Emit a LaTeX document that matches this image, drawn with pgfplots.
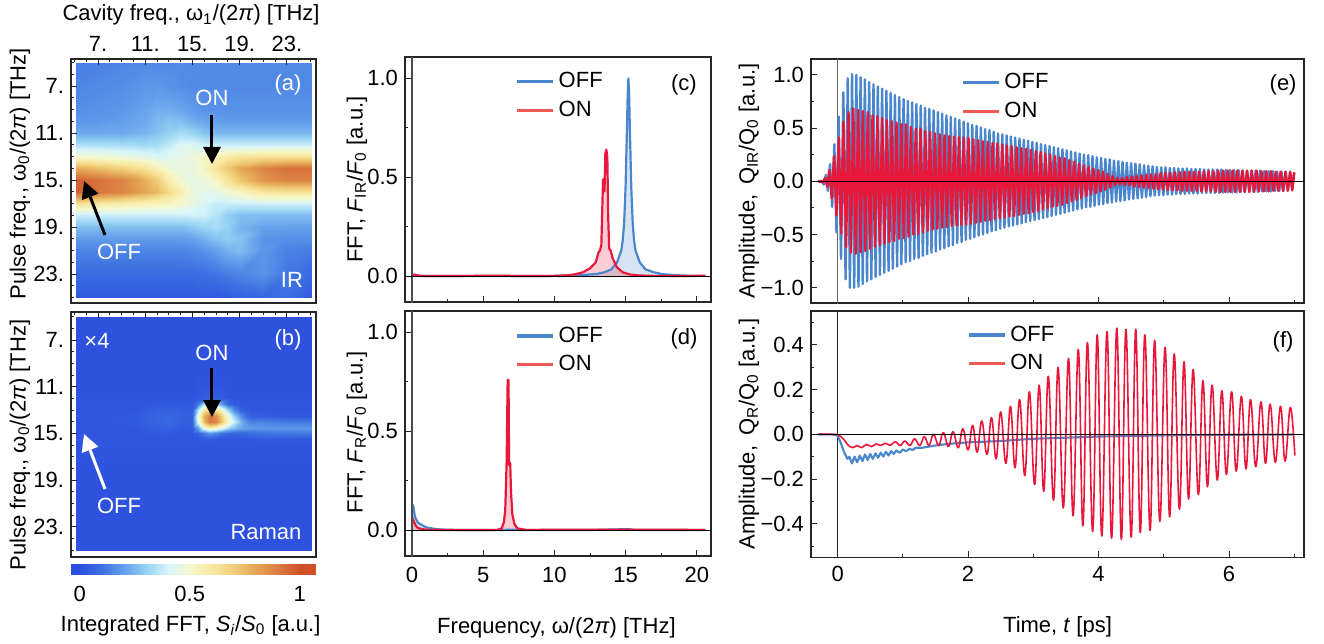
\documentclass[border=0pt]{standalone}
\usepackage{fontspec}
\setmainfont{Liberation Sans}
\usepackage{pgfplots}
\usepackage{pgfplotstable}
\pgfplotsset{compat=1.18}
\usetikzlibrary{arrows.meta}

\definecolor{cBlue}{RGB}{74,134,204}
\definecolor{cRed}{RGB}{232,24,58}
\definecolor{lRed}{RGB}{238,90,85}
\newcommand{\fs}{\fontsize{11bp}{12bp}\selectfont}

% heatmap (a) IR
\pgfplotstableread[row sep=\\]{
x y z\\
5.1 5 .13\\ 7 5 .13\\ 9 5 .14\\ 11 5 .15\\ 12 5 .15\\ 13 5 .15\\ 14 5 .15\\ 15 5 .15\\ 16 5 .15\\ 17 5 .15\\ 18 5 .15\\ 19 5 .15\\ 21 5 .15\\ 23 5 .15\\ 25.1 5 .15\\
5.1 7 .14\\ 7 7 .15\\ 9 7 .16\\ 11 7 .18\\ 12 7 .18\\ 13 7 .17\\ 14 7 .16\\ 15 7 .15\\ 16 7 .15\\ 17 7 .15\\ 18 7 .15\\ 19 7 .15\\ 21 7 .15\\ 23 7 .15\\ 25.1 7 .15\\
5.1 9 .16\\ 7 9 .17\\ 9 9 .18\\ 11 9 .21\\ 12 9 .23\\ 13 9 .23\\ 14 9 .21\\ 15 9 .19\\ 16 9 .17\\ 17 9 .17\\ 18 9 .17\\ 19 9 .17\\ 21 9 .17\\ 23 9 .17\\ 25.1 9 .17\\
5.1 10 .18\\ 7 10 .18\\ 9 10 .20\\ 11 10 .22\\ 12 10 .25\\ 13 10 .27\\ 14 10 .26\\ 15 10 .23\\ 16 10 .21\\ 17 10 .20\\ 18 10 .19\\ 19 10 .19\\ 21 10 .19\\ 23 10 .19\\ 25.1 10 .19\\
5.1 11 .22\\ 7 11 .22\\ 9 11 .22\\ 11 11 .24\\ 12 11 .27\\ 13 11 .30\\ 14 11 .33\\ 15 11 .31\\ 16 11 .27\\ 17 11 .25\\ 18 11 .25\\ 19 11 .25\\ 21 11 .25\\ 23 11 .25\\ 25.1 11 .25\\
5.1 12 .34\\ 7 12 .34\\ 9 12 .33\\ 11 12 .32\\ 12 12 .33\\ 13 12 .37\\ 14 12 .42\\ 15 12 .42\\ 16 12 .39\\ 17 12 .38\\ 18 12 .38\\ 19 12 .38\\ 21 12 .38\\ 23 12 .38\\ 25.1 12 .38\\
5.1 13 .50\\ 7 13 .49\\ 9 13 .47\\ 11 13 .44\\ 12 13 .41\\ 13 13 .42\\ 14 13 .45\\ 15 13 .47\\ 16 13 .52\\ 17 13 .56\\ 18 13 .60\\ 19 13 .62\\ 21 13 .64\\ 23 13 .64\\ 25.1 13 .64\\
5.1 14 .78\\ 7 14 .74\\ 9 14 .68\\ 11 14 .62\\ 12 14 .54\\ 13 14 .47\\ 14 14 .45\\ 15 14 .45\\ 16 14 .52\\ 17 14 .62\\ 18 14 .72\\ 19 14 .80\\ 21 14 .88\\ 23 14 .93\\ 25.1 14 .93\\
5.1 15 .97\\ 7 15 .93\\ 9 15 .88\\ 11 15 .78\\ 12 15 .70\\ 13 15 .57\\ 14 15 .48\\ 15 15 .44\\ 16 15 .46\\ 17 15 .52\\ 18 15 .62\\ 19 15 .72\\ 21 15 .84\\ 23 15 .88\\ 25.1 15 .88\\
5.1 16 .97\\ 7 16 .92\\ 9 16 .88\\ 11 16 .80\\ 12 16 .75\\ 13 16 .66\\ 14 16 .56\\ 15 16 .46\\ 16 16 .43\\ 17 16 .44\\ 18 16 .48\\ 19 16 .52\\ 21 16 .60\\ 23 16 .62\\ 25.1 16 .62\\
5.1 17 .62\\ 7 17 .58\\ 9 17 .56\\ 11 17 .54\\ 12 17 .53\\ 13 17 .52\\ 14 17 .50\\ 15 17 .46\\ 16 17 .40\\ 17 17 .37\\ 18 17 .37\\ 19 17 .37\\ 21 17 .38\\ 23 17 .38\\ 25.1 17 .38\\
5.1 18 .38\\ 7 18 .38\\ 9 18 .38\\ 11 18 .38\\ 12 18 .38\\ 13 18 .38\\ 14 18 .38\\ 15 18 .39\\ 16 18 .39\\ 17 18 .35\\ 18 18 .29\\ 19 18 .26\\ 21 18 .26\\ 23 18 .26\\ 25.1 18 .26\\
5.1 19 .26\\ 7 19 .26\\ 9 19 .26\\ 11 19 .26\\ 12 19 .26\\ 13 19 .26\\ 14 19 .26\\ 15 19 .28\\ 16 19 .31\\ 17 19 .33\\ 18 19 .30\\ 19 19 .24\\ 21 19 .20\\ 23 19 .20\\ 25.1 19 .20\\
5.1 20 .19\\ 7 20 .19\\ 9 20 .19\\ 11 20 .19\\ 12 20 .19\\ 13 20 .19\\ 14 20 .19\\ 15 20 .20\\ 16 20 .23\\ 17 20 .27\\ 18 20 .29\\ 19 20 .27\\ 21 20 .17\\ 23 20 .16\\ 25.1 20 .16\\
5.1 21 .14\\ 7 21 .14\\ 9 21 .14\\ 11 21 .14\\ 12 21 .14\\ 13 21 .14\\ 14 21 .14\\ 15 21 .15\\ 16 21 .17\\ 17 21 .20\\ 18 21 .24\\ 19 21 .26\\ 21 21 .18\\ 23 21 .13\\ 25.1 21 .12\\
5.1 23 .08\\ 7 23 .08\\ 9 23 .08\\ 11 23 .08\\ 12 23 .08\\ 13 23 .08\\ 14 23 .08\\ 15 23 .08\\ 16 23 .09\\ 17 23 .10\\ 18 23 .12\\ 19 23 .14\\ 21 23 .17\\ 23 23 .11\\ 25.1 23 .07\\
5.1 25 .03\\ 7 25 .03\\ 9 25 .03\\ 11 25 .03\\ 12 25 .03\\ 13 25 .03\\ 14 25 .03\\ 15 25 .03\\ 16 25 .03\\ 17 25 .03\\ 18 25 .04\\ 19 25 .05\\ 21 25 .07\\ 23 25 .09\\ 25.1 25 .03\\
}\tabA

% heatmap (b) Raman: finer nodes around the blob
\pgfplotstableread[row sep=\\]{
x y z\\
5.1 5 .01\\ 10 5 .01\\ 12 5 .01\\ 13 5 .01\\ 14 5 .01\\ 15 5 .01\\ 15.5 5 .01\\ 16 5 .01\\ 16.5 5 .01\\ 17 5 .01\\ 17.5 5 .01\\ 18 5 .01\\ 18.5 5 .01\\ 19 5 .01\\ 19.5 5 .01\\ 20 5 .01\\ 21 5 .01\\ 23 5 .01\\ 25.1 5 .01\\
5.1 9 .01\\ 10 9 .01\\ 12 9 .01\\ 13 9 .01\\ 14 9 .01\\ 15 9 .01\\ 15.5 9 .01\\ 16 9 .01\\ 16.5 9 .01\\ 17 9 .01\\ 17.5 9 .01\\ 18 9 .01\\ 18.5 9 .01\\ 19 9 .01\\ 19.5 9 .01\\ 20 9 .01\\ 21 9 .01\\ 23 9 .01\\ 25.1 9 .01\\
5.1 11 .01\\ 10 11 .01\\ 12 11 .01\\ 13 11 .01\\ 14 11 .01\\ 15 11 .01\\ 15.5 11 .02\\ 16 11 .02\\ 16.5 11 .02\\ 17 11 .02\\ 17.5 11 .02\\ 18 11 .02\\ 18.5 11 .01\\ 19 11 .01\\ 19.5 11 .01\\ 20 11 .01\\ 21 11 .01\\ 23 11 .01\\ 25.1 11 .01\\
5.1 12 .02\\ 10 12 .02\\ 12 12 .02\\ 13 12 .02\\ 14 12 .02\\ 15 12 .02\\ 15.5 12 .03\\ 16 12 .04\\ 16.5 12 .05\\ 17 12 .04\\ 17.5 12 .03\\ 18 12 .02\\ 18.5 12 .02\\ 19 12 .02\\ 19.5 12 .02\\ 20 12 .02\\ 21 12 .02\\ 23 12 .02\\ 25.1 12 .02\\
5.1 12.5 .02\\ 10 12.5 .02\\ 12 12.5 .03\\ 13 12.5 .03\\ 14 12.5 .03\\ 15 12.5 .03\\ 15.5 12.5 .12\\ 16 12.5 .35\\ 16.5 12.5 .42\\ 17 12.5 .35\\ 17.5 12.5 .18\\ 18 12.5 .07\\ 18.5 12.5 .03\\ 19 12.5 .02\\ 19.5 12.5 .02\\ 20 12.5 .02\\ 21 12.5 .02\\ 23 12.5 .02\\ 25.1 12.5 .02\\
5.1 13 .02\\ 10 13 .02\\ 12 13 .05\\ 13 13 .05\\ 14 13 .04\\ 15 13 .04\\ 15.5 13 .35\\ 16 13 .62\\ 16.5 13 .70\\ 17 13 .62\\ 17.5 13 .48\\ 18 13 .30\\ 18.5 13 .15\\ 19 13 .06\\ 19.5 13 .03\\ 20 13 .02\\ 21 13 .02\\ 23 13 .02\\ 25.1 13 .02\\
5.1 13.5 .02\\ 10 13.5 .03\\ 12 13.5 .06\\ 13 13.5 .07\\ 14 13.5 .05\\ 15 13.5 .05\\ 15.5 13.5 .48\\ 16 13.5 .78\\ 16.5 13.5 .92\\ 17 13.5 .85\\ 17.5 13.5 .68\\ 18 13.5 .48\\ 18.5 13.5 .30\\ 19 13.5 .18\\ 19.5 13.5 .08\\ 20 13.5 .05\\ 21 13.5 .04\\ 23 13.5 .03\\ 25.1 13.5 .03\\
5.1 14 .02\\ 10 14 .03\\ 12 14 .06\\ 13 14 .07\\ 14 14 .05\\ 15 14 .05\\ 15.5 14 .42\\ 16 14 .75\\ 16.5 14 .92\\ 17 14 .88\\ 17.5 14 .70\\ 18 14 .52\\ 18.5 14 .38\\ 19 14 .26\\ 19.5 14 .18\\ 20 14 .14\\ 21 14 .14\\ 23 14 .12\\ 25.1 14 .12\\
5.1 14.5 .02\\ 10 14.5 .02\\ 12 14.5 .04\\ 13 14.5 .05\\ 14 14.5 .03\\ 15 14.5 .04\\ 15.5 14.5 .20\\ 16 14.5 .45\\ 16.5 14.5 .55\\ 17 14.5 .50\\ 17.5 14.5 .42\\ 18 14.5 .32\\ 18.5 14.5 .26\\ 19 14.5 .22\\ 19.5 14.5 .20\\ 20 14.5 .19\\ 21 14.5 .18\\ 23 14.5 .18\\ 25.1 14.5 .18\\
5.1 15 .02\\ 10 15 .02\\ 12 15 .03\\ 13 15 .03\\ 14 15 .02\\ 15 15 .02\\ 15.5 15 .05\\ 16 15 .12\\ 16.5 15 .18\\ 17 15 .15\\ 17.5 15 .10\\ 18 15 .08\\ 18.5 15 .07\\ 19 15 .07\\ 19.5 15 .08\\ 20 15 .09\\ 21 15 .10\\ 23 15 .11\\ 25.1 15 .12\\
5.1 15.5 .02\\ 10 15.5 .02\\ 12 15.5 .02\\ 13 15.5 .02\\ 14 15.5 .02\\ 15 15.5 .02\\ 15.5 15.5 .02\\ 16 15.5 .03\\ 16.5 15.5 .03\\ 17 15.5 .03\\ 17.5 15.5 .02\\ 18 15.5 .02\\ 18.5 15.5 .02\\ 19 15.5 .02\\ 19.5 15.5 .02\\ 20 15.5 .02\\ 21 15.5 .03\\ 23 15.5 .03\\ 25.1 15.5 .03\\
5.1 16 .02\\ 10 16 .02\\ 12 16 .02\\ 13 16 .02\\ 14 16 .02\\ 15 16 .02\\ 15.5 16 .02\\ 16 16 .02\\ 16.5 16 .02\\ 17 16 .02\\ 17.5 16 .02\\ 18 16 .02\\ 18.5 16 .02\\ 19 16 .02\\ 19.5 16 .02\\ 20 16 .02\\ 21 16 .02\\ 23 16 .02\\ 25.1 16 .02\\
5.1 19 .01\\ 10 19 .01\\ 12 19 .01\\ 13 19 .01\\ 14 19 .01\\ 15 19 .01\\ 15.5 19 .01\\ 16 19 .01\\ 16.5 19 .01\\ 17 19 .01\\ 17.5 19 .01\\ 18 19 .01\\ 18.5 19 .01\\ 19 19 .01\\ 19.5 19 .01\\ 20 19 .01\\ 21 19 .01\\ 23 19 .01\\ 25.1 19 .01\\
5.1 25 .01\\ 10 25 .01\\ 12 25 .01\\ 13 25 .01\\ 14 25 .01\\ 15 25 .01\\ 15.5 25 .01\\ 16 25 .01\\ 16.5 25 .01\\ 17 25 .01\\ 17.5 25 .01\\ 18 25 .01\\ 18.5 25 .01\\ 19 25 .01\\ 19.5 25 .01\\ 20 25 .01\\ 21 25 .01\\ 23 25 .01\\ 25.1 25 .01\\
}\tabB

% colorbar
\pgfplotstableread[row sep=\\]{
x y\\
-.04 0\\ 0 0\\ .1 0\\ .2 0\\ .3 0\\ .4 0\\ .5 0\\ .6 0\\ .7 0\\ .8 0\\ .9 0\\ 1 0\\ 1.07 0\\
-.04 1\\ 0 1\\ .1 1\\ .2 1\\ .3 1\\ .4 1\\ .5 1\\ .6 1\\ .7 1\\ .8 1\\ .9 1\\ 1 1\\ 1.07 1\\
}\tabBar

% FFT spectra
\pgfplotstableread[row sep=\\]{
x y\\
0 .004\\ .1 .008\\ .3 .004\\ 1 .001\\ 5 .001\\ 6.9 .002\\ 8 .001\\ 10 .002\\ 12 .006\\ 13 .012\\ 13.5 .02\\ 14 .035\\ 14.4 .07\\ 14.7 .13\\ 14.8 .18\\ 14.9 .27\\ 15.0 .45\\ 15.05 .6\\ 15.1 .75\\ 15.15 .92\\ 15.2 1.0\\ 15.25 .92\\ 15.3 .75\\ 15.35 .6\\ 15.4 .45\\ 15.5 .27\\ 15.6 .18\\ 15.7 .13\\ 16 .07\\ 16.4 .035\\ 17 .02\\ 17.5 .012\\ 18 .008\\ 19 .004\\ 20 .002\\ 20.6 .002\\
}\tabCoff
\pgfplotstableread[row sep=\\]{
x y\\
0 .005\\ .2 .008\\ .5 .002\\ 1 .001\\ 6.8 .003\\ 7 .001\\ 10 .002\\ 11 .005\\ 11.5 .011\\ 12 .02\\ 12.5 .04\\ 12.9 .07\\ 13.1 .12\\ 13.2 .13\\ 13.3 .16\\ 13.35 .3\\ 13.42 .49\\ 13.48 .48\\ 13.52 .43\\ 13.58 .62\\ 13.65 .64\\ 13.72 .6\\ 13.78 .3\\ 13.85 .14\\ 13.95 .13\\ 14.1 .09\\ 14.4 .045\\ 14.8 .02\\ 15.3 .009\\ 16 .004\\ 17 .002\\ 18 .002\\ 19 .001\\ 20.6 .003\\
}\tabCon
\pgfplotstableread[row sep=\\]{
x y\\
.02 .13\\ .1 .12\\ .2 .07\\ .4 .04\\ .6 .03\\ 1 .015\\ 1.5 .008\\ 2 .004\\ 3 .002\\ 6 .001\\ 7 .003\\ 8 .001\\ 13 .002\\ 15.2 .006\\ 15.6 .002\\ 18 .001\\ 20.6 .002\\
}\tabDoff
\pgfplotstableread[row sep=\\]{
x y\\
.02 .065\\ .1 .05\\ .25 .025\\ .4 .012\\ .7 .006\\ 1 .003\\ 2 .001\\ 6 .002\\ 6.3 .01\\ 6.45 .04\\ 6.55 .1\\ 6.65 .35\\ 6.72 .76\\ 6.78 .76\\ 6.82 .33\\ 6.9 .34\\ 6.95 .2\\ 7.05 .08\\ 7.2 .03\\ 7.4 .01\\ 8 .002\\ 13.5 .003\\ 20.6 .002\\
}\tabDon

\pgfplotsset{
  colormap={temp}{rgb255=(44,78,222) rgb255=(62,115,226) rgb255=(100,160,235) rgb255=(150,210,243) rgb255=(215,245,250) rgb255=(245,248,205) rgb255=(248,232,160) rgb255=(240,205,120) rgb255=(228,165,85) rgb255=(218,125,65) rgb255=(208,80,40)},
  base/.style={scale only axis, anchor=south west, tick align=inside,
    axis line style={black!85, line width=.7bp},
    tick style={black!85, line width=.45bp},
    major tick length=3bp, minor tick length=1.5bp,
    tick label style={font=\fs},
    xticklabel style={yshift=-1bp},
    every axis plot/.append style={line join=round},
    clip=true},
  heat/.style={base, width=122.5bp, height=122bp, xmin=4.71, xmax=25.47,
    y dir=reverse, colormap name=temp, point meta min=0, point meta max=1,
    xtick={7,11,15,19,23}, ytick={7,11,15,19,23},
    yticklabels={7.,11.,15.,19.,23.},
    minor xtick={5,6,8,9,10,12,13,14,16,17,18,20,21,22,24,25},
    minor ytick={5,6,8,9,10,12,13,14,16,17,18,20,21,22,24,25},
    xtick pos=top, ytick pos=left, axis on top},
  fft/.style={base, width=153bp, height=122.5bp, xmin=-.49, xmax=21,
    ymin=-.13, ymax=1.108, xtick={0,5,10,15,20}, minor xtick={2.5,7.5,12.5,17.5},
    ytick={0,.5,1}, yticklabels={0.0,0.5,1.0}, minor ytick={.25,.75},
    xtick pos=bottom, ytick pos=left},
  tim/.style={base, width=246.5bp, height=122bp, xmin=-.408, xmax=7.15,
    xtick={0,2,4,6}, minor xtick={1,3,5,7}, xtick pos=bottom, ytick pos=left},
  leg/.style={legend style={at={(#1)}, anchor=north west, draw=none, fill=none,
    inner sep=0pt, font=\fs, row sep=1.2bp, /tikz/every even column/.append style={column sep=6bp}},
    legend cell align=left,
    legend image code/.code={\draw[##1] (0bp,0bp) -- (18bp,0bp);}},
  ylab/.style 2 args={every axis y label/.style={at={(axis description cs:#1,#2)}, rotate=90, anchor=center, font=\fs}},
  xlab/.style 2 args={every axis x label/.style={at={(axis description cs:#1,#2)}, anchor=center, font=\fs}},
}

\begin{document}
\begin{tikzpicture}
\path[use as bounding box] (0bp,0bp) rectangle (662bp,-322bp);

% (a)
\begin{axis}[heat, at={(35.5bp,-151.5bp)}, ymin=4.7, ymax=25.47,
  xticklabels={7.,11.,15.,19.,23.}, xticklabel pos=top,
  xticklabel style={yshift=1bp},
  xlab={.49}{1.18}, xlabel={Cavity freq., ω\textsubscript{1}/(2\textit{π}) [THz]},
  ylab={-.208}{.53}, ylabel={Pulse freq., ω\textsubscript{0}/(2\textit{π}) [THz]}]
\addplot[surf, shader=interp, mesh/cols=15, point meta=\thisrow{z}] table {\tabA};
\end{axis}

% (b)
\begin{axis}[heat, at={(35.5bp,-278.5bp)}, height=122.5bp, ymin=4.6, ymax=25.58,
  xticklabels={},
  ylab={-.208}{.457}, ylabel={Pulse freq., ω\textsubscript{0}/(2\textit{π}) [THz]}]
\addplot[surf, shader=interp, mesh/cols=19, point meta=\thisrow{z}] table {\tabB};
\end{axis}

% colorbar
\begin{axis}[base, at={(35.5bp,-287bp)}, width=122bp, height=5bp,
  colormap name=temp, point meta min=0, point meta max=1,
  xmin=-.04, xmax=1.07, ymin=0, ymax=1, ytick=\empty,
  xtick={0,.5,1}, xticklabels={0,0.5,1}, xtick pos=bottom,
  major tick length=1bp, xticklabel style={yshift=-1.5bp},
  axis line style={black!35, line width=.4bp},
  xlab={.49}{-5.2}, xlabel={Integrated FFT, \textit{S\textsubscript{i}}/\textit{S}\textsubscript{0} [a.u.]}]
\addplot[surf, shader=interp, mesh/cols=13, point meta=x] table {\tabBar};
\end{axis}

% (c)
\begin{axis}[fft, leg={.36,.955}, at={(202.5bp,-151bp)}, xticklabels={},
  ylab={-.157}{.5}, ylabel={FFT, \textit{F}\textsubscript{IR}/\textit{F}\textsubscript{0} [a.u.]}]
\addlegendimage{cBlue, line width=1.6bp}\addlegendentry{OFF}
\addlegendimage{lRed, line width=1.6bp}\addlegendentry{ON}
\addplot[forget plot, draw=none, fill=cBlue, fill opacity=.22] table {\tabCoff} \closedcycle;
\addplot[forget plot, draw=none, fill=cRed, fill opacity=.22] table {\tabCon} \closedcycle;
\addplot[forget plot, cBlue, line width=1.1bp] table {\tabCoff};
\addplot[forget plot, cRed, line width=1.1bp] table {\tabCon};
\draw[black!70, line width=.7bp] (axis cs:0,-1) -- (axis cs:0,2);
\draw[black, line width=.6bp] (axis cs:-1,0) -- (axis cs:22,0);
\node[font=\fs] at (axis cs:19.1,.97) {(c)};
\end{axis}

% (d)
\begin{axis}[fft, leg={.36,.953}, at={(202.5bp,-278bp)},
  xticklabels={0,5,10,15,20}, xticklabel style={yshift=-1bp},
  xlab={.495}{-.292}, xlabel={Frequency, ω/(2\textit{π}) [THz]},
  ylab={-.157}{.505}, ylabel={FFT, \textit{F}\textsubscript{R}/\textit{F}\textsubscript{0} [a.u.]}]
\addlegendimage{cBlue, line width=1.6bp}\addlegendentry{OFF}
\addlegendimage{lRed, line width=1.6bp}\addlegendentry{ON}
\addplot[forget plot, draw=none, fill=cBlue, fill opacity=.22] table {\tabDoff} \closedcycle;
\addplot[forget plot, draw=none, fill=cRed, fill opacity=.22] table {\tabDon} \closedcycle;
\addplot[forget plot, cBlue, line width=1.1bp] table {\tabDoff};
\addplot[forget plot, cRed, line width=1.1bp] table {\tabDon};
\draw[black!70, line width=.7bp] (axis cs:0,-1) -- (axis cs:0,2);
\draw[black, line width=.6bp] (axis cs:-1,0) -- (axis cs:22,0);
\node[font=\fs] at (axis cs:19.1,.97) {(d)};
\end{axis}

% (e)
\begin{axis}[tim, leg={.304,.958}, at={(405.5bp,-151.5bp)}, ymin=-1.143, ymax=1.148, xticklabels={},
  ytick={-1,-.5,0,.5,1}, yticklabels={−1.0,−0.5,0.0,0.5,1.0}, minor ytick={-.75,-.25,.25,.75},
  ylab={-.126}{.5}, ylabel={Amplitude, \,Q\textsubscript{IR}/Q\textsubscript{0} [a.u.]}]
\addlegendimage{cBlue, line width=1.6bp}\addlegendentry{OFF}
\addlegendimage{lRed, line width=1.6bp}\addlegendentry{ON}
\draw[black!60, line width=.7bp] (axis cs:0,-2) -- (axis cs:0,2);
\addplot[forget plot, cBlue, line width=1.2bp] coordinates {
(-.3,0)(-.25,.005)(-.213,-.03)(-.18,.06)(-.149,-.09)(-.116,.16)(-.083,-.24)(-.05,.347)(-.017,-.48)(.016,.607)(.052,-.73)(.088,.835)(.122,-.92)(.155,.967)(.188,-1.0)(.221,1.007)(.254,-1.0)(.287,.998)(.32,-.99)(.352,.976)(.385,-.965)(.418,.957)(.451,-.94)(.484,.93)(.517,-.92)(.55,.91)(.583,-.90)(.616,.89)(.649,-.88)(.682,.87)
(.715,-.86)(.748,.85)(.781,-.84)(.813,.83)(.846,-.82)(.879,.81)(.912,-.80)(.945,.79)(.978,-.78)(1.011,.77)(1.044,-.76)(1.077,.755)(1.11,-.75)(1.143,.74)(1.175,-.73)(1.208,.725)(1.241,-.72)(1.274,.71)(1.307,-.70)(1.34,.69)(1.373,-.685)(1.406,.68)(1.439,-.67)(1.472,.665)(1.505,-.66)(1.538,.65)
(1.57,-.64)(1.603,.635)(1.636,-.63)(1.669,.62)(1.702,-.61)(1.735,.605)(1.768,-.60)(1.801,.59)(1.834,-.58)(1.867,.575)(1.9,-.57)(1.933,.56)(1.965,-.55)(1.998,.545)(2.031,-.54)(2.064,.53)(2.097,-.525)(2.13,.52)(2.163,-.51)(2.196,.505)(2.229,-.50)(2.262,.49)(2.295,-.485)(2.328,.48)(2.36,-.47)(2.393,.465)(2.426,-.46)(2.459,.45)(2.492,-.445)(2.525,.44)
(2.558,-.435)(2.591,.43)(2.624,-.425)(2.657,.42)(2.69,-.415)(2.723,.41)(2.755,-.405)(2.788,.40)(2.821,-.395)(2.854,.39)(2.887,-.385)(2.92,.38)(2.953,-.375)(2.986,.37)(3.019,-.365)(3.052,.36)(3.085,-.355)(3.118,.35)(3.15,-.345)(3.183,.34)(3.216,-.335)(3.249,.33)(3.282,-.325)(3.315,.32)(3.348,-.315)(3.381,.31)(3.414,-.305)(3.447,.30)(3.48,-.295)(3.513,.29)
(3.545,-.285)(3.578,.28)(3.611,-.275)(3.644,.27)(3.677,-.265)(3.71,.26)(3.743,-.255)(3.776,.25)(3.809,-.245)(3.842,.245)(3.875,-.24)(3.908,.235)(3.94,-.23)(3.973,.225)(4.006,-.22)(4.039,.22)(4.072,-.215)(4.105,.21)(4.138,-.205)(4.171,.205)(4.204,-.20)(4.237,.195)(4.27,-.19)(4.303,.19)(4.335,-.185)(4.368,.18)(4.401,-.18)(4.434,.175)(4.467,-.17)(4.5,.17)
(4.533,-.165)(4.566,.165)(4.599,-.16)(4.632,.16)(4.665,-.155)(4.698,.15)(4.73,-.15)(4.763,.145)(4.796,-.14)(4.829,.14)(4.862,-.135)(4.895,.135)(4.928,-.13)(4.961,.13)(4.994,-.13)(5.027,.13)(5.06,-.125)(5.093,.125)(5.126,-.125)(5.158,.125)(5.191,-.12)(5.224,.12)(5.257,-.12)(5.29,.12)(5.323,-.12)(5.356,.12)(5.389,-.115)(5.422,.115)(5.455,-.115)(5.488,.115)
(5.52,-.115)(5.553,.115)(5.586,-.11)(5.619,.11)(5.652,-.11)(5.685,.11)(5.718,-.11)(5.751,.11)(5.784,-.11)(5.817,.11)(5.85,-.11)(5.883,.11)(5.915,-.105)(5.948,.105)(5.981,-.105)(6.014,.105)(6.047,-.105)(6.08,.105)(6.113,-.105)(6.146,.105)(6.179,-.10)(6.212,.10)(6.245,-.10)(6.278,.10)(6.31,-.10)(6.343,.10)(6.376,-.10)(6.409,.10)(6.442,-.10)(6.475,.10)
(6.508,-.095)(6.541,.095)(6.574,-.095)(6.607,.095)(6.64,-.095)(6.673,.095)(6.705,-.09)(6.738,.09)(6.771,-.09)(6.804,.09)(6.837,-.09)(6.87,.09)(6.903,-.085)(6.936,.085)(6.969,-.08)(7.0,.08)};
\addplot[forget plot, cRed, line width=1.2bp] coordinates {
(-.3,0)(-.23,-.01)(-.193,.03)(-.16,-.05)(-.127,.105)(-.09,-.16)(-.055,.237)(-.018,-.32)(.018,.41)(.054,-.49)(.09,.56)(.13,-.62)(.167,.65)(.204,-.67)(.241,.683)(.278,-.68)(.315,.668)(.352,-.665)(.388,.659)(.425,-.655)(.462,.65)(.498,-.635)(.535,.62)(.572,-.615)(.609,.61)(.646,-.60)(.683,.595)(.72,-.585)(.756,.575)(.793,-.57)(.83,.565)(.867,-.56)(.903,.55)(.94,-.54)(.977,.535)(1.014,-.535)(1.05,.535)(1.087,-.52)(1.124,.51)(1.161,-.50)(1.198,.495)(1.235,-.495)(1.271,.495)(1.308,-.48)(1.345,.47)(1.382,-.465)(1.418,.465)(1.455,-.455)(1.492,.45)
(1.529,-.445)(1.566,.44)(1.603,-.435)(1.639,.43)(1.676,-.43)(1.713,.425)(1.75,-.42)(1.787,.42)(1.824,-.415)(1.86,.415)(1.897,-.41)(1.934,.41)(1.971,-.405)(2.007,.405)(2.044,-.40)(2.081,.395)(2.118,-.39)(2.155,.385)(2.192,-.38)(2.228,.375)(2.265,-.37)(2.302,.37)(2.339,-.365)(2.375,.36)(2.412,-.355)(2.449,.355)(2.486,-.35)(2.523,.345)(2.56,-.34)(2.596,.335)(2.633,-.33)(2.67,.33)(2.707,-.325)(2.743,.32)(2.78,-.315)(2.817,.31)(2.854,-.305)(2.891,.305)(2.928,-.30)(2.964,.295)(3.001,-.29)(3.038,.285)(3.075,-.28)(3.111,.275)(3.148,-.265)(3.185,.26)(3.222,-.255)(3.259,.25)(3.296,-.24)(3.332,.235)(3.369,-.23)(3.406,.225)(3.443,-.22)(3.479,.215)(3.516,-.205)(3.553,.20)(3.59,-.19)(3.627,.185)(3.664,-.175)(3.7,.165)(3.737,-.155)(3.774,.15)(3.811,-.14)(3.847,.135)(3.884,-.125)(3.921,.12)(3.958,-.11)(3.995,.105)(4.032,-.095)(4.068,.09)(4.105,-.08)(4.142,.07)(4.179,-.06)(4.215,.05)(4.252,-.04)(4.289,.03)(4.326,-.03)(4.363,.03)(4.4,-.035)(4.436,.04)(4.473,-.04)(4.51,.045)(4.547,-.05)(4.583,.05)(4.62,-.055)(4.657,.055)(4.694,-.06)(4.731,.06)(4.768,-.065)(4.804,.065)(4.841,-.07)(4.878,.07)(4.915,-.075)(4.951,.075)(4.988,-.08)(5.025,.08)(5.062,-.08)(5.099,.08)(5.136,-.085)(5.172,.085)(5.209,-.085)(5.246,.085)(5.283,-.09)(5.319,.09)(5.356,-.09)(5.393,.09)(5.43,-.09)(5.467,.09)(5.504,-.09)(5.54,.09)(5.577,-.095)(5.614,.095)(5.651,-.095)(5.687,.095)(5.724,-.095)(5.761,.095)(5.798,-.10)(5.835,.10)(5.872,-.10)(5.908,.10)(5.945,-.10)(5.982,.10)(6.019,-.10)(6.055,.10)(6.092,-.10)(6.129,.10)(6.166,-.10)(6.203,.10)(6.24,-.10)(6.276,.10)(6.313,-.10)(6.35,.10)(6.387,-.10)(6.423,.10)(6.46,-.095)(6.497,.095)(6.534,-.095)(6.571,.095)(6.608,-.095)(6.644,.095)(6.681,-.09)(6.718,.09)(6.755,-.09)(6.791,.09)(6.828,-.09)(6.865,.09)(6.902,-.09)(6.939,.09)(6.97,-.085)(7.0,.085)};
\draw[black, line width=.6bp] (axis cs:-1,0) -- (axis cs:8,0);
\node[font=\fs] at (axis cs:6.83,.91) {(e)};
\end{axis}

% (f)
\begin{axis}[tim, leg={.316,.958}, at={(405.5bp,-278.7bp)}, height=123.2bp, ymin=-.551, ymax=.552,
  xticklabels={0,2,4,6},
  ytick={-.4,-.2,0,.2,.4}, yticklabels={−0.4,−0.2,0.0,0.2,0.4}, minor ytick={-.5,-.3,-.1,.1,.3,.5},
  xlab={.5}{-.28}, xlabel={Time, \textit{t} [ps]},
  ylab={-.126}{.5}, ylabel={Amplitude, \,Q\textsubscript{R}/Q\textsubscript{0} [a.u.]}]
\addlegendimage{cBlue, line width=1.6bp}\addlegendentry{OFF}
\addlegendimage{lRed, line width=1.6bp}\addlegendentry{ON}
\draw[black!85, line width=.4bp] (axis cs:0,-2) -- (axis cs:0,2);
\addplot[forget plot, cBlue, line width=1.05bp] coordinates {
(-.3,0)(-.1,0)(0,-.005)(.05,-.04)(.1,-.08)(.15,-.11)(.18,-.10)(.22,-.13)(.26,-.10)(.30,-.125)(.34,-.095)(.38,-.12)(.42,-.09)(.46,-.115)(.50,-.088)(.54,-.11)(.58,-.085)(.62,-.105)(.66,-.082)(.70,-.10)(.74,-.078)(.78,-.095)(.82,-.075)(.86,-.088)(.9,-.072)(.95,-.083)(1.0,-.068)(1.05,-.076)(1.1,-.065)(1.15,-.07)(1.2,-.06)(1.3,-.06)(1.4,-.055)(1.5,-.05)(1.7,-.043)(2,-.036)(2.5,-.03)(3,-.02)(3.5,-.015)(4,-.01)(5,-.005)(6,-.002)(7,-.001)};
\addplot[forget plot, cRed, line width=.8bp, smooth, tension=.7] coordinates {
(-.3,0)(-.1,0)(0,-.002)(.05,-.01)(.1,-.025)(.15,-.045)(.23,-.06)(.3,-.05)(.37,-.06)(.44,-.045)(.52,-.055)(.59,-.043)(.66,-.05)(.73,-.04)(.81,-.05)(.88,-.033)(.96,-.05)(1.03,-.03)(1.11,-.05)(1.18,-.02)(1.26,-.05)(1.33,-.01)(1.4,-.05)(1.47,0)(1.55,-.05)(1.62,.008)(1.7,-.055)(1.77,.012)(1.85,-.06)(1.92,.025)(2.0,-.07)(2.07,.04)(2.14,-.08)(2.21,.06)(2.29,-.09)(2.36,.075)(2.43,-.11)(2.5,.10)(2.58,-.13)(2.65,.125)(2.72,-.15)(2.79,.155)(2.87,-.185)(2.94,.19)(3.02,-.225)(3.09,.22)(3.16,-.255)(3.23,.26)(3.31,-.295)(3.38,.30)(3.46,-.33)(3.54,.34)(3.61,-.365)(3.69,.38)(3.76,-.41)(3.83,.41)(3.91,-.435)(3.98,.445)(4.05,-.455)(4.13,.46)(4.2,-.465)(4.28,.475)(4.35,-.47)(4.42,.47)(4.5,-.46)(4.57,.47)(4.64,-.44)(4.71,.445)(4.79,-.43)(4.86,.42)(4.94,-.39)(5.02,.39)(5.09,-.37)(5.16,.36)(5.24,-.335)(5.31,.325)(5.38,-.29)(5.45,.29)(5.53,-.27)(5.6,.24)(5.67,-.235)(5.74,.22)(5.82,-.205)(5.89,.195)(5.96,-.18)(6.04,.19)(6.11,-.165)(6.19,.17)(6.26,-.155)(6.33,.155)(6.41,-.145)(6.49,.145)(6.56,-.13)(6.63,.135)(6.71,-.125)(6.79,.125)(6.86,-.12)(6.94,.12)(7.01,-.095)};
\draw[black, line width=.6bp] (axis cs:-1,0) -- (axis cs:8,0);
\node[font=\fs] at (axis cs:6.83,.415) {(f)};
\end{axis}

% annotations on the heatmaps, in reference pixels
\begin{scope}[x=.5bp, y=-.5bp, font=\fs]
\node[white] at (288,85) {(a)};
\node[white] at (212,98) {ON};
\node[white] at (119,252) {OFF};
\node[white] at (292,280) {IR};
\draw[black, line width=1.5bp, -{Triangle[length=8.5bp,width=8.5bp]}] (212,115) -- (212,164);
\draw[black, line width=1.5bp, -{Triangle[length=8.5bp,width=8.5bp]}] (105,235) -- (84,181);
\node[white] at (288,340) {(b)};
\node[white] at (97,341) {×4};
\node[white] at (212,353) {ON};
\node[white] at (119,506) {OFF};
\node[white] at (266,532) {Raman};
\draw[black, line width=1.5bp, -{Triangle[length=8.5bp,width=8.5bp]}] (212,368) -- (212,417);
\draw[white, line width=1.5bp, -{Triangle[length=8.5bp,width=8.5bp]}] (105,489) -- (84,434);
\end{scope}
\end{tikzpicture}
\end{document}
